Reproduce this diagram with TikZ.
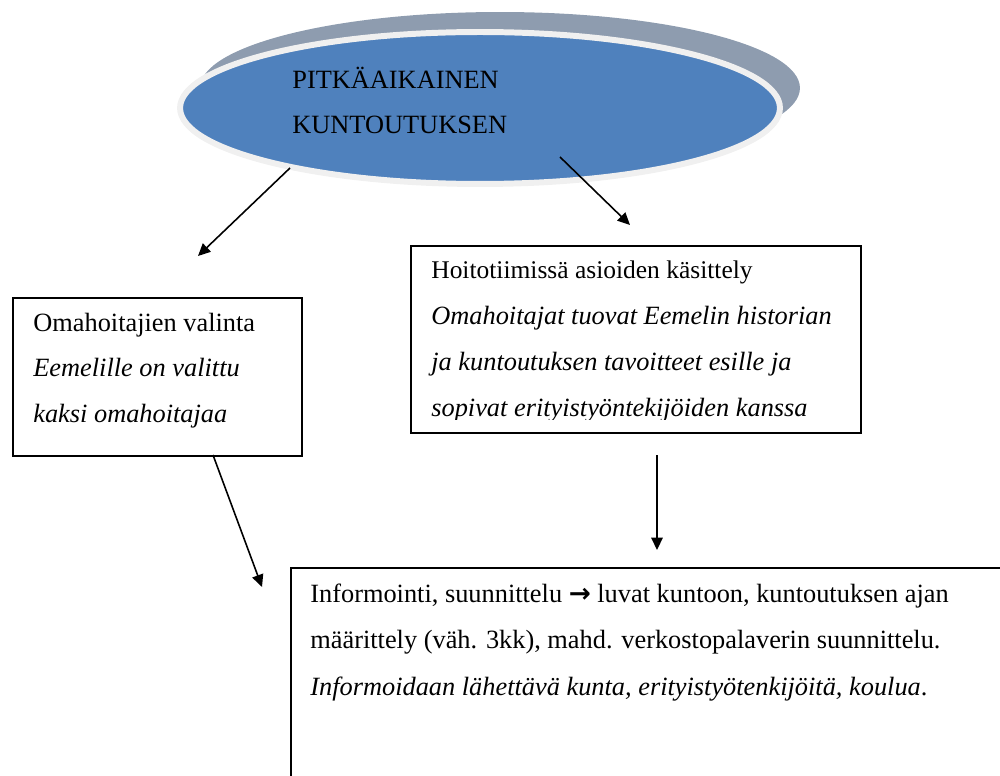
\documentclass[tikz,border=0pt]{standalone}
\usepackage{fontspec}
\setmainfont{Liberation Serif}
\newfontfamily\symfont{DejaVu Sans}
\usetikzlibrary{arrows.meta,shapes.geometric}
\definecolor{ovalblue}{HTML}{4F81BD}
\definecolor{ovalshade}{HTML}{8E9CAF}
\definecolor{ovalrim}{HTML}{F0F0F0}
\begin{document}
\begin{tikzpicture}[x=0.02cm,y=-0.02cm,
  txt/.style={anchor=base west,inner sep=0pt,font=\fontsize{15pt}{17pt}\selectfont},
  smalltxt/.style={txt,font=\fontsize{14.5pt}{16pt}\selectfont},
  boxed/.style={draw=black,line width=0.9pt,inner sep=0pt,anchor=north west},
  conn/.style={line width=0.9pt,-{Triangle[length=7pt,width=6.5pt]}}]
\useasboundingbox (0,0) rectangle (1000,776);

% oval with its grey drop shade
\node[ellipse,fill=ovalshade,inner sep=0pt,minimum width=12cm,minimum height=3.04cm] (shade) at (500,88) {};
\node[ellipse,fill=ovalblue,draw=ovalrim,line width=3.4pt,inner sep=0pt,minimum width=12cm,minimum height=3.04cm] (oval) at (480,108) {};
\node[txt] (t1) at (292,89) {PITKÄAIKAINEN};
\node[txt] (t2) at (292,134) {KUNTOUTUKSEN};

% left box
\node[boxed,minimum width=5.78cm,minimum height=3.16cm] (b1) at (12,297) {};
\node[txt] (b1l1) at (33,332) {Omahoitajien valinta};
\node[txt] (b1l2) at (33,377) {\itshape Eemelille on valittu};
\node[txt] (b1l3) at (33,422) {\itshape kaksi omahoitajaa};

% right box, its text cut off at the lower inner margin
\node[boxed,minimum width=9cm,minimum height=3.74cm] (b2) at (410,245) {};
\begin{scope}
  \clip (410,245) rectangle (860,420);
  \node[smalltxt] (b2l1) at (431,279) {Hoitotiimissä asioiden käsittely};
  \node[txt] (b2l2) at (431,325) {\itshape Omahoitajat tuovat Eemelin historian};
  \node[txt] (b2l3) at (431,371) {\itshape ja kuntoutuksen tavoitteet esille ja};
  \node[txt] (b2l4) at (431,417) {\itshape sopivat erityistyöntekijöiden kanssa};
\end{scope}

% bottom box, running past the page edges
\node[boxed,minimum width=14.4cm,minimum height=4.46cm] (b3) at (290,567) {};
\node[txt] (b3l1) at (310,602) {Informointi, suunnittelu {\symfont\bfseries →} luvat kuntoon, kuntoutuksen ajan};
\node[txt] (b3l2) at (310,648) {määrittely (väh. 3kk), mahd. verkostopalaverin suunnittelu.};
\node[txt] (b3l3) at (310,695) {\itshape Informoidaan lähettävä kunta, erityistyötenkijöitä, koulua\upshape.};

% connectors
\coordinate (a1s) at (290,168);
\coordinate (a1e) at (198,256);
\coordinate (a2s) at (560,157);
\coordinate (a2e) at (630,225);
\coordinate (a3s) at (213,455);
\coordinate (a3e) at (262,587);
\coordinate (a4s) at (657,455);
\coordinate (a4e) at (657,550);
\draw[conn] (a1s) -- (a1e);
\draw[conn] (a2s) -- (a2e);
\draw[conn] (a3s) -- (a3e);
\draw[conn] (a4s) -- (a4e);
\end{tikzpicture}
\end{document}
